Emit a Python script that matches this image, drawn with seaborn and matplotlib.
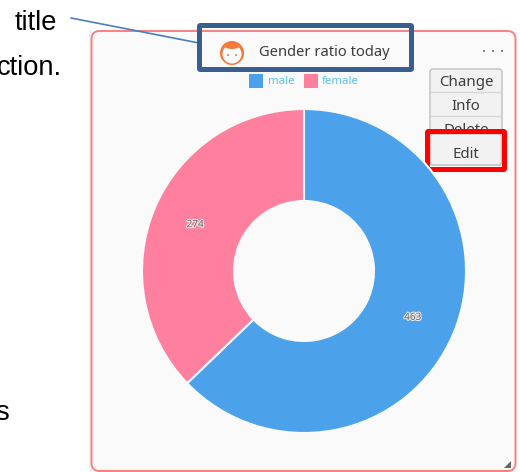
import matplotlib
matplotlib.use("Agg")
import matplotlib.pyplot as plt
import matplotlib.patheffects as pe
from matplotlib.patches import Circle, Ellipse, FancyBboxPatch, Polygon, Rectangle
import seaborn as sns

CATEGORIES = ["male", "female"]
VALUES = [463, 274]
CHART_TITLE = "Gender ratio today"
MENU_ITEMS = ["Change", "Info", "Delete", "Edit"]

COLOR_MALE = "#4BA2EA"
COLOR_FEMALE = "#FF7F9E"
COLOR_LEGEND = "#5CC0EA"
COLOR_CARD = "#FAFAFA"
COLOR_ICON = "#F5793B"
UI_FONT = "Noto Sans"
DOC_FONT = "Liberation Sans"

W, H = 520, 472
CX, CY, R = 304, 271, 162

sns.set_theme(style="white")
palette = sns.color_palette([COLOR_MALE, COLOR_FEMALE])

fig = plt.figure(figsize=(W / 100, H / 100), dpi=100, facecolor="white")

# pixel canvas for everything around the donut
ax = fig.add_axes([0, 0, 1, 1])
ax.set_xlim(0, W)
ax.set_ylim(H, 0)
ax.axis("off")


def rounded(x0, y0, x1, y1, rad, **kw):
    ax.add_patch(FancyBboxPatch((x0, y0), x1 - x0, y1 - y0,
                                boxstyle=f"round,pad=0,rounding_size={rad}", **kw))


# card
ax.add_patch(Rectangle((89, 30), 3, 442, color="#F0F0F0", lw=0))
rounded(91.5, 31, 515.5, 471, 8, facecolor=COLOR_CARD, edgecolor="#FB7F80", linewidth=1.4)

# document text cut off by the screenshot
ax.text(15, 23, "title", fontsize=19.6, family=DOC_FONT, color="black", va="center")
ax.text(62, 68, "ction.", fontsize=19.6, family=DOC_FONT, color="black", va="center", ha="right")
ax.text(9, 413, "s", fontsize=19.6, family=DOC_FONT, color="black", va="center", ha="right")

# header icon: orange disc, white face, hair fringe
ax.add_patch(Circle((232, 53), 12, color=COLOR_ICON, lw=0))
ax.add_patch(Circle((232, 54), 9.5, color="white", lw=0))
ax.add_patch(Ellipse((232, 46), 15, 6, color=COLOR_ICON, lw=0))
ax.add_patch(Circle((228, 55), 1, color=COLOR_ICON, lw=0))
ax.add_patch(Circle((236, 55), 1, color=COLOR_ICON, lw=0))
ax.text(259, 52, CHART_TITLE, fontsize=10.6, family=UI_FONT, color="#3C3C3C", va="center")
for x in (484, 493, 502):
    ax.add_patch(Circle((x, 51), 0.9, color="#444444", lw=0))

# legend
leg_x = [(249, 268), (304, 322)]
for name, col, (sx, tx) in zip(CATEGORIES, palette, leg_x):
    ax.add_patch(Rectangle((sx, 73.5), 14, 14, color=col, lw=0))
    ax.text(tx, 81.5, name, fontsize=8.2, family=UI_FONT, color=COLOR_LEGEND, va="center")

# menu buttons
rounded(430, 69, 502, 165, 3, facecolor="#F2F2F2", edgecolor="#C8C8C8", linewidth=1.2)
for y in (92, 116):
    ax.plot([431, 501], [y, y], color="#D5D5D5", lw=1)
row_y = [83, 106, 130, 154]
for item, y in zip(MENU_ITEMS, row_y):
    if item == "Edit":
        rounded(430.5, 134, 501.5, 165, 3, facecolor="#F2F2F2", edgecolor="#C8C8C8",
                linewidth=1.2, zorder=3)
    ax.text(466, y, item, fontsize=10.8, family=UI_FONT, color="#3C3C3C",
            va="center", ha="center", zorder=4)

# annotation boxes and leader
ax.plot([71, 199], [18, 43], color="#4A7EBB", lw=1.2, zorder=5)
rounded(199.5, 25.5, 411.5, 69.5, 1, facecolor="none", edgecolor="#3A5F8F", linewidth=3.6, zorder=5)
rounded(427.5, 131.5, 504.5, 169.5, 1, facecolor="none", edgecolor="#FF0000", linewidth=3.6, zorder=5)

# resize grip
ax.add_patch(Polygon([[511, 461], [511, 468], [504, 468]], color="#666666", lw=0))

# donut
ax_pie = fig.add_axes([(CX - R) / W, 1 - (CY + R) / H, 2 * R / W, 2 * R / H])
ax_pie.patch.set_alpha(0)
values_iter = iter(VALUES)
_, _, labels = ax_pie.pie(
    VALUES, colors=palette, startangle=90, counterclock=False, radius=1,
    autopct=lambda p: f"{next(values_iter)}", pctdistance=0.73,
    wedgeprops={"width": 1 - 70 / R, "edgecolor": COLOR_CARD, "linewidth": 1.5},
)
ax_pie.set_xlim(-1, 1)
ax_pie.set_ylim(-1, 1)
for t in labels:
    t.set_fontsize(7.2)
    t.set_family(UI_FONT)
    t.set_color("#666666")
    t.set_path_effects([pe.withStroke(linewidth=1.5, foreground="#E8E8E8")])

fig.savefig("out.png", dpi=100)
